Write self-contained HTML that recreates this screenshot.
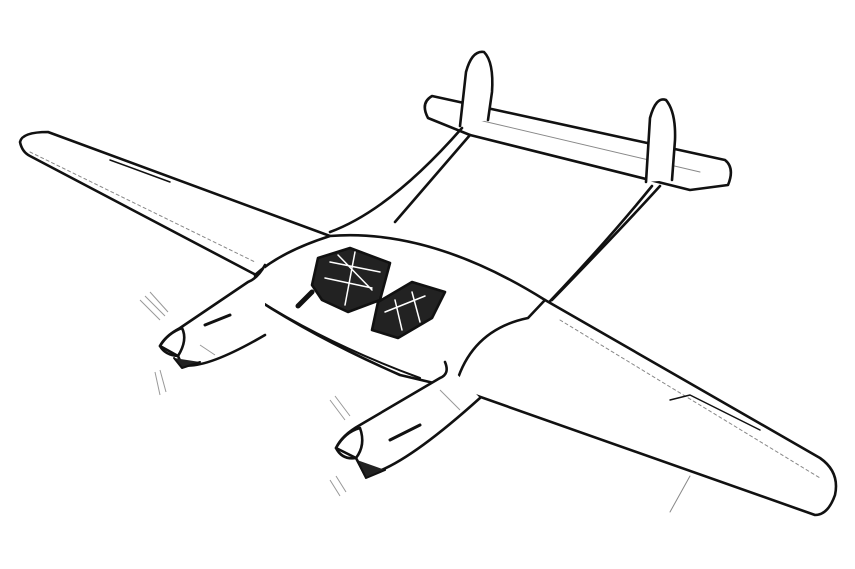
<!DOCTYPE html>
<html><head><style>
html,body{margin:0;padding:0;background:#fff;width:855px;height:569px;overflow:hidden}
svg{display:block}
</style></head><body>
<svg width="855" height="569" viewBox="0 0 855 569" xmlns="http://www.w3.org/2000/svg">
<rect width="855" height="569" fill="#fff"/>
<g fill="none" stroke="#111" stroke-width="2.6" stroke-linejoin="round" stroke-linecap="round">
<!-- tailplane -->
<path d="M432,96 L725,160 Q735,168 728,185 L690,190 L658,182 L470,135 L428,118 Q420,103 432,96 Z" fill="#fff"/>
<path d="M470,118 L700,172" stroke-width="1" stroke="#888"/>
<!-- fins -->
<path d="M460,126 L466,72 Q472,50 484,52 Q494,62 492,92 L488,120" fill="#fff"/>
<path d="M646,182 L650,118 Q656,96 666,100 Q676,112 675,140 L672,180" fill="#fff"/>
<!-- booms -->
<path d="M330,232 Q390,210 462,128"/>
<path d="M395,222 Q440,170 470,135"/>
<path d="M530,322 Q600,250 652,186"/>
<path d="M552,300 Q620,230 660,186"/>
<!-- left wing -->
<path d="M330,236 L48,132 Q22,132 20,142 Q22,152 30,156 L258,276" fill="#fff"/>
<path d="M30,152 L255,262" stroke-width="1" stroke="#888" stroke-dasharray="3 3"/>
<path d="M110,160 L170,182" stroke-width="1.5"/>
<!-- right wing -->
<path d="M545,300 L820,458 Q840,472 835,495 Q828,515 815,515 L455,388" fill="#fff"/>
<path d="M560,320 L820,478" stroke-width="1" stroke="#888" stroke-dasharray="3 3"/>
<path d="M670,400 L690,395 L760,430" stroke-width="1.5"/>
<path d="M690,476 L670,512" stroke-width="1" stroke="#888"/>
<!-- center section -->
<path d="M330,236 Q430,228 545,300 L528,318 Q470,330 455,388 L400,375 Q320,340 258,300 L255,275 Q280,252 330,236 Z" fill="#fff"/>
<path d="M258,300 Q330,345 420,378" stroke-width="2"/>
<!-- cockpit 1 -->
<path d="M318,258 L350,248 L390,263 L380,300 L348,312 L322,300 L312,285 Z" fill="#222"/>
<path d="M330,262 L380,272 M338,255 L372,290 M325,278 L372,288 M355,252 L345,305" stroke="#fff" stroke-width="1.5"/>
<path d="M312,292 L298,306" stroke-width="5"/>
<!-- cockpit 2 -->
<path d="M378,302 L412,282 L445,292 L432,318 L398,338 L372,330 Z" fill="#222"/>
<path d="M385,312 L425,296 M395,300 L402,330 M412,292 L420,322" stroke="#fff" stroke-width="1.5"/>
<!-- left engine -->
<path d="M265,265 Q258,278 248,282 L180,328 Q165,336 160,346 Q165,355 178,356 L182,365 Q205,370 265,335" fill="#fff"/>
<path d="M160,346 Q168,333 182,328 Q188,340 178,356 Z" fill="#fff"/>
<path d="M174,358 L182,368 L200,362" fill="#222" stroke-width="2"/>
<path d="M205,325 L230,315" stroke-width="3"/>
<!-- right engine -->
<path d="M445,362 Q450,374 440,378 L360,425 Q342,435 336,448 Q342,460 356,458 L365,475 Q400,470 480,398" fill="#fff"/>
<path d="M336,448 Q345,432 360,428 Q366,445 356,458 Z" fill="#fff"/>
<path d="M357,460 L366,478 L385,470" fill="#222" stroke-width="2"/>
<path d="M390,440 L420,425" stroke-width="3"/>
</g>
<g stroke="#999" stroke-width="1" fill="none">
<path d="M140,300 L160,320 M145,296 L165,316 M150,292 L168,312 M155,372 L160,395 M160,370 L166,392"/>
<path d="M330,400 L345,420 M335,396 L350,416 M330,480 L340,496 M336,476 L346,492"/>
<path d="M440,390 L460,410 M200,345 L215,355"/>
</g>
</svg>
</body></html>
